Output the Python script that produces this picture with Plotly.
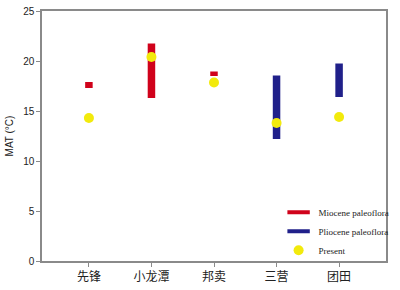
import plotly.graph_objects as go

sites = ["先锋", "小龙潭", "邦卖", "三营", "团田"]
miocene_low = [17.3, 16.3, 18.5, None, None]
miocene_high = [17.9, 21.75, 18.95, None, None]
pliocene_low = [None, None, None, 12.2, 16.4]
pliocene_high = [None, None, None, 18.55, 19.75]
present = [14.3, 20.4, 17.85, 13.8, 14.4]
y_ticks = [0, 5, 10, 15, 20, 25]

RED = "#d0021b"
BLUE = "#20208a"
YELLOW = "#f2ea0c"

def span(lo, hi):
    return [None if (a is None or b is None) else b - a for a, b in zip(lo, hi)]

fig = go.Figure()
fig.add_trace(go.Bar(x=sites, y=span(miocene_low, miocene_high), base=miocene_low,
                     width=0.12, marker=dict(color=RED, line=dict(width=0)),
                     showlegend=False))
fig.add_trace(go.Bar(x=sites, y=span(pliocene_low, pliocene_high), base=pliocene_low,
                     width=0.12, marker=dict(color=BLUE, line=dict(width=0)),
                     showlegend=False))
fig.add_trace(go.Scatter(x=sites, y=present, mode="markers",
                         marker=dict(color=YELLOW, size=10, line=dict(width=0)),
                         showlegend=False))
# legend entries
fig.add_trace(go.Scatter(x=[None], y=[None], mode="markers", name="Miocene paleoflora",
                         marker=dict(symbol="line-ew", size=16, line=dict(color=RED, width=4))))
fig.add_trace(go.Scatter(x=[None], y=[None], mode="markers", name="Pliocene paleoflora",
                         marker=dict(symbol="line-ew", size=16, line=dict(color=BLUE, width=4))))
fig.add_trace(go.Scatter(x=[None], y=[None], mode="markers", name="Present",
                         marker=dict(color=YELLOW, size=10, line=dict(width=0))))

axis_common = dict(showline=True, linecolor="#8a8a8a", linewidth=1.5, mirror=True,
                   ticks="outside", ticklen=4, tickcolor="#8a8a8a", showgrid=False,
                   zeroline=False)

fig.update_layout(
    width=400, height=290,
    margin=dict(l=42, r=5, t=7, b=29),
    paper_bgcolor="white", plot_bgcolor="white",
    barmode="overlay",
    showlegend=True,
    legend=dict(x=1.025, xanchor="right", y=-0.015, yanchor="bottom",
                bgcolor="rgba(0,0,0,0)", itemsizing="trace", tracegroupgap=0,
                font=dict(family="Liberation Serif", size=9, color="#222")),
    xaxis=dict(axis_common, type="category", range=[-0.75, 4.75],
               tickfont=dict(family="Noto Sans CJK SC", size=12, color="#222")),
    yaxis=dict(axis_common, range=[0, 25], tickvals=y_ticks,
               tickfont=dict(family="Liberation Sans", size=10, color="#222"),
               title=dict(text="MAT (°C)", standoff=8,
                          font=dict(family="Liberation Sans", size=10, color="#222"))),
)

fig.write_html("out.html")
